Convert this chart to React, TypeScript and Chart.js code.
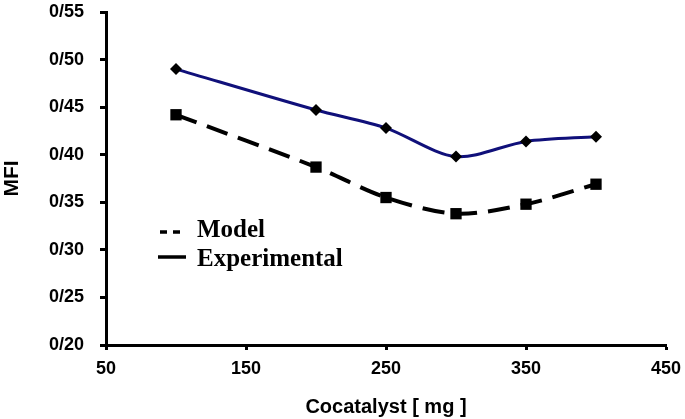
import React, { useEffect, useRef } from "react";
import { Chart, registerables } from "chart.js";

Chart.register(...registerables);

const cocatalyst = [100, 200, 250, 300, 350, 400];
const experimental = [0.49, 0.447, 0.428, 0.398, 0.414, 0.419];
const model = [0.442, 0.387, 0.355, 0.338, 0.348, 0.369];
const yTicks = { min: 0.2, max: 0.55, step: 0.05 };
const xTicks = { min: 50, max: 450, step: 100 };
const legendLabels = ["Model", "Experimental"];

const legendPlugin = {
  id: "inlineLegend",
  afterDatasetsDraw(chart: any) {
    const { ctx, chartArea } = chart;
    const x0 = chartArea.left + 52;
    const y1 = chartArea.top + 220;
    const y2 = chartArea.top + 245;
    ctx.save();
    ctx.strokeStyle = "#000";
    ctx.lineWidth = 3.5;
    ctx.setLineDash([7, 6]);
    ctx.beginPath();
    ctx.moveTo(x0 + 2, y1);
    ctx.lineTo(x0 + 23, y1);
    ctx.stroke();
    ctx.setLineDash([]);
    ctx.beginPath();
    ctx.moveTo(x0, y2);
    ctx.lineTo(x0 + 28, y2);
    ctx.stroke();
    ctx.fillStyle = "#000";
    ctx.font = "bold 25px 'Liberation Serif', 'Times New Roman', serif";
    ctx.textBaseline = "alphabetic";
    ctx.textAlign = "left";
    ctx.fillText(legendLabels[0], x0 + 39, y1 + 5);
    ctx.fillText(legendLabels[1], x0 + 39, y2 + 9);
    ctx.restore();
  },
};

export default function App() {
  const ref = useRef<HTMLCanvasElement>(null);
  useEffect(() => {
    document.body.style.margin = "0";
    const canvas = ref.current!;
    const tickFont = { family: "'Liberation Sans', Arial, sans-serif", size: 18, weight: "bold" as const };
    const chart = new Chart(canvas, {
      type: "line",
      data: {
        datasets: [
          {
            label: "Experimental",
            data: cocatalyst.map((x, i) => ({ x, y: experimental[i] })),
            borderColor: "#10107a",
            borderWidth: 3,
            pointStyle: "rectRot",
            pointRadius: 6,
            pointBackgroundColor: "#000",
            pointBorderColor: "#000",
            pointBorderWidth: 0,
            tension: 0.3,
          },
          {
            label: "Model",
            data: cocatalyst.map((x, i) => ({ x, y: model[i] })),
            borderColor: "#000",
            borderWidth: 4,
            borderDash: [22, 11],
            pointStyle: "rect",
            pointRadius: 8,
            pointBackgroundColor: "#000",
            pointBorderColor: "#000",
            pointBorderWidth: 0,
            tension: 0.3,
          },
        ],
      },
      options: {
        animation: false,
        responsive: false,
        maintainAspectRatio: false,
        layout: { padding: { top: 12, right: 19, left: 0, bottom: 0 } },
        plugins: { legend: { display: false }, tooltip: { enabled: false } },
        scales: {
          x: {
            type: "linear",
            min: xTicks.min,
            max: xTicks.max,
            ticks: {
              stepSize: xTicks.step,
              color: "#000",
              font: tickFont,
              padding: 8,
              maxRotation: 0,
            },
            grid: { drawOnChartArea: false, drawTicks: true, tickLength: 5, tickColor: "#000", tickWidth: 3 },
            border: { display: true, color: "#000", width: 3 },
            title: {
              display: true,
              text: "Cocatalyst [ mg ]",
              color: "#000",
              font: { family: "'Liberation Sans', Arial, sans-serif", size: 20, weight: "bold" },
              padding: { top: 12, bottom: 0 },
            },
            afterFit: (s: any) => {
              s.height = 74;
              s.paddingLeft = 0;
              s.paddingRight = 0;
            },
          },
          y: {
            type: "linear",
            min: yTicks.min,
            max: yTicks.max,
            ticks: {
              stepSize: yTicks.step,
              color: "#000",
              font: tickFont,
              padding: 16,
              callback: (v: any) => Number(v).toFixed(2).replace(".", "/"),
            },
            grid: { drawOnChartArea: false, drawTicks: true, tickLength: 6, tickColor: "#000", tickWidth: 3 },
            border: { display: true, color: "#000", width: 3 },
            title: {
              display: true,
              text: "MFI",
              color: "#000",
              font: { family: "'Liberation Sans', Arial, sans-serif", size: 21, weight: "bold" },
              padding: { top: 0, bottom: 0 },
            },
            afterFit: (s: any) => {
              s.width = 106;
              s.paddingTop = 0;
              s.paddingBottom = 0;
            },
          },
        },
      },
      plugins: [legendPlugin],
    });
    return () => chart.destroy();
  }, []);
  return (
    <div style={{ width: 685, height: 419, background: "#fff" }}>
      <canvas ref={ref} width={685} height={419} style={{ display: "block" }} />
    </div>
  );
}
